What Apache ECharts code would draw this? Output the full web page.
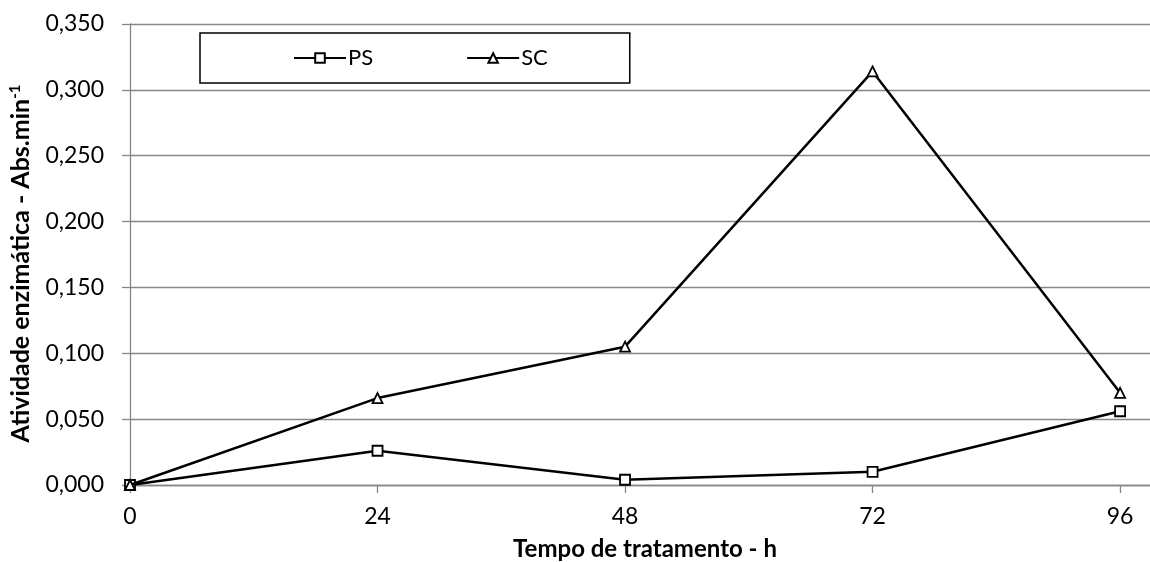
<!DOCTYPE html>
<html>
<head>
<meta charset="utf-8">
<script src="https://cdn.jsdelivr.net/npm/echarts@6/dist/echarts.min.js"></script>
<style>
  html, body { margin: 0; padding: 0; background: #fff; }
  #chart { width: 1150px; height: 562px; }
</style>
</head>
<body>
<div id="chart"></div>
<script>
// Treatment time (h) and enzyme activity (Abs.min-1) for each sample
const hours = [0, 24, 48, 72, 96];
const psValues = [0, 0.026, 0.004, 0.010, 0.056];
const scValues = [0, 0.066, 0.105, 0.314, 0.070];
const xTicks = [0, 24, 48, 72, 96];

const FONT = 'Lato, "Open Sans", sans-serif';
const pairs = vals => hours.map((h, i) => [h, vals[i]]);
const fmt = v => v.toFixed(3).replace('.', ',');

const chart = echarts.init(document.getElementById('chart'), null, { renderer: 'canvas' });
chart.setOption({
  animation: false,
  backgroundColor: '#ffffff',
  grid: { left: 130, right: 0, top: 24, bottom: 77, containLabel: false, outerBoundsMode: 'none' },
  legend: {
    left: 200, top: 33,
    padding: [14, 82, 14, 93],
    borderColor: '#000', borderWidth: 1.5,
    itemWidth: 52, itemHeight: 12, itemGap: 93,
    textStyle: { fontFamily: FONT, fontSize: 22, color: '#000', padding: [0, 0, 0, -3] },
    data: ['PS', 'SC']
  },
  xAxis: {
    type: 'value', min: 0, max: 98.9,
    axisLine: { show: true, onZero: false, lineStyle: { color: '#868686', width: 1.3 } },
    axisTick: { show: true, length: 8, customValues: xTicks, lineStyle: { color: '#868686', width: 1.3 } },
    axisLabel: { customValues: xTicks, margin: 20, fontFamily: FONT, fontSize: 23, color: '#000' },
    splitLine: { show: false },
    name: 'Tempo de tratamento - h', nameLocation: 'middle', nameGap: 52,
    nameTextStyle: { fontFamily: FONT, fontSize: 24, fontWeight: 'bold', color: '#000', padding: [0, 0, 0, 10] }
  },
  yAxis: {
    type: 'value', min: 0, max: 0.35, interval: 0.05,
    axisLine: { show: true, lineStyle: { color: '#868686', width: 1.3 } },
    axisTick: { show: true, length: 8, lineStyle: { color: '#868686', width: 1.3 } },
    axisLabel: { margin: 26, fontFamily: FONT, fontSize: 23, color: '#000', formatter: fmt },
    splitLine: { show: true, lineStyle: { color: '#868686', width: 1.3 } },
    name: '{t|Atividade enzimática - Abs.min}{s|-1}', nameLocation: 'middle', nameGap: 97,
    nameTextStyle: {
      color: '#000',
      padding: [0, 18, 0, 0],
      rich: {
        t: { fontFamily: FONT, fontSize: 25, fontWeight: 'bold', color: '#000' },
        s: { fontFamily: FONT, fontSize: 15, fontWeight: 'bold', color: '#000', verticalAlign: 'top', padding: [0, 0, 10, 0] }
      }
    }
  },
  series: [
    {
      name: 'PS', type: 'line', data: pairs(psValues),
      symbol: 'rect', symbolSize: 10,
      lineStyle: { color: '#000', width: 2.5 },
      itemStyle: { color: '#fff', borderColor: '#000', borderWidth: 1.8 },
      z: 3
    },
    {
      name: 'SC', type: 'line', data: pairs(scValues),
      symbol: 'triangle', symbolSize: 10,
      lineStyle: { color: '#000', width: 2.5 },
      itemStyle: { color: '#fff', borderColor: '#000', borderWidth: 1.8 },
      z: 4
    }
  ]
});
</script>
</body>
</html>
